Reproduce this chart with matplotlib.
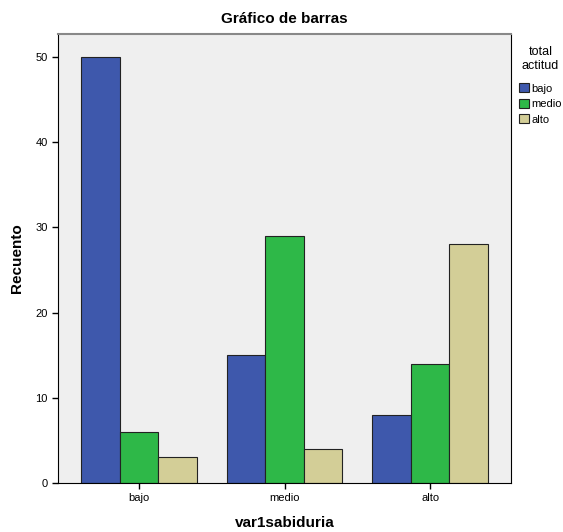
import numpy as np
import matplotlib.pyplot as plt

plt.rcParams['font.family'] = ['Liberation Sans', 'DejaVu Sans']

categories = ['bajo', 'medio', 'alto']
series = ['bajo', 'medio', 'alto']
counts = {
    'bajo': [50, 15, 8],
    'medio': [6, 29, 14],
    'alto': [3, 4, 28],
}
colors = ['#3E58AC', '#2EB848', '#D3CE97']

fig = plt.figure(figsize=(5.63, 5.32), dpi=100)
ax = fig.add_axes([0.103, 0.092, 0.805, 0.844])
ax.set_facecolor('#EFEFEF')

x = np.arange(len(categories))
w = 0.265
for i, s in enumerate(series):
    ax.bar(x + (i - 1) * w, counts[s], width=w, color=colors[i],
           edgecolor='#222222', linewidth=0.8, label=s, zorder=2)

ax.set_xlim(-0.557, 2.557)
ax.set_ylim(0, 52.7)
ax.set_yticks([0, 10, 20, 30, 40, 50])
ax.set_xticks(x)
ax.set_xticklabels(categories)
ax.tick_params(labelsize=8, length=4, width=1, colors='black')
for side in ['left', 'bottom', 'right']:
    ax.spines[side].set_color('black')
ax.spines['top'].set_color('#888888')
ax.spines['top'].set_linewidth(1.5)

ax.set_title('Gráfico de barras', fontsize=11, fontweight='bold', pad=8)
ax.set_ylabel('Recuento', fontsize=11, fontweight='bold', labelpad=8)
ax.set_xlabel('var1sabiduria', fontsize=11, fontweight='bold', labelpad=9)

leg = ax.legend(title='total\nactitud', loc='upper left', bbox_to_anchor=(1.0, 0.99),
                frameon=False, fontsize=8, title_fontsize=9,
                handlelength=0.9, handleheight=0.9, handletextpad=0.2,
                labelspacing=0.45, borderaxespad=0.3, alignment='center')
leg.get_title().set_multialignment('center')
leg._legend_box.sep = 8

fig.savefig('out.png', dpi=100)
